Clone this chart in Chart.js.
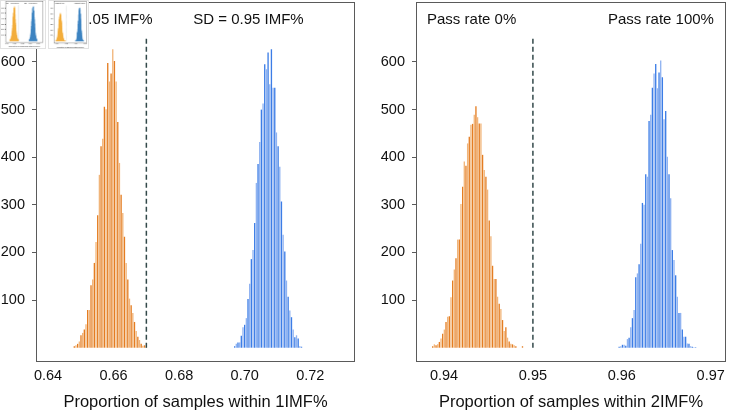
<!DOCTYPE html>
<html>
<head>
<meta charset="utf-8">
<script src="https://cdn.jsdelivr.net/npm/chart.js@4.4.1/dist/chart.umd.min.js"></script>
<style>
  html, body { margin: 0; padding: 0; background: #fff; }
  body { width: 737px; height: 412px; position: relative; overflow: hidden; }
  canvas { position: absolute; }
  #inset { position: absolute; left: 0; top: 0; width: 89px; height: 49px; background: #fff; }
  #inset canvas { box-sizing: border-box; border: 1px solid #e2e2e2; }
</style>
</head>
<body>
<canvas id="left" width="368" height="412" style="left:0;top:0"></canvas>
<canvas id="right" width="369" height="412" style="left:368px;top:0"></canvas>
<div id="inset">
  <canvas id="thumbLeft" width="46" height="49" style="left:0;top:0"></canvas>
  <canvas id="thumbRight" width="41" height="49" style="left:48px;top:0"></canvas>
</div>
<script>
// histogram counts, one value per bin
const leftBinWidth = 0.00051;
const leftOrangeStart = 0.64802;
const leftOrange = [3, 5, 8, 13, 26, 31, 38, 49, 79, 79, 131, 143, 178, 222, 278, 363, 423, 439, 506, 501,
  598, 559, 576, 627, 602, 559, 474, 388, 321, 283, 233, 178, 143, 103, 89, 73, 54, 35, 23, 16, 8, 4, 5, 2];
const leftBlueStart = 0.69692;
const leftBlue = [3, 8, 11, 11, 25, 43, 48, 62, 102, 134, 186, 205, 262, 346, 386, 432, 500, 513, 595, 585,
  620, 553, 627, 546, 546, 452, 423, 380, 307, 237, 202, 141, 107, 78, 64, 38, 22, 26, 19, 3, 2];
const leftThreshold = 0.67;
const leftTicks = [0.64, 0.66, 0.68, 0.70, 0.72];
const leftNotes = ['SD = 1.05 IMF%', 'SD = 0.95 IMF%'];

const rightBinWidth = 0.000187;
const rightOrangeStart = 0.93873;
const rightOrange = [3, 7, 5, 7, 12, 19, 29, 38, 54, 65, 66, 106, 141, 164, 188, 227, 227, 302, 338, 391,
  382, 429, 443, 468, 470, 489, 507, 484, 471, 471, 405, 373, 359, 332, 267, 234, 172, 144, 144, 107,
  92, 81, 58, 35, 43, 21, 13, 8, 7, 5, 3, 0, 0, 0, 3];
const rightBlueStart = 0.95970;
const rightBlue = [2, 3, 6, 6, 4, 18, 21, 43, 62, 79, 148, 156, 175, 218, 304, 300, 364, 359, 476, 489,
  546, 576, 596, 545, 578, 603, 568, 480, 497, 401, 364, 314, 205, 184, 152, 107, 73, 73, 38, 23,
  23, 9, 8, 3, 2, 1, 1];
const rightThreshold = 0.95;
const rightTicks = [0.94, 0.95, 0.96, 0.97];
const rightNotes = ['Pass rate 0%', 'Pass rate 100%'];

const countTicks = [100, 200, 300, 400, 500, 600];

const fontFamily = '"Liberation Sans", Arial, Helvetica, sans-serif';

function bins(start, width, counts) {
  return counts.map((c, i) => ({x: start + i * width, y: c}));
}

function alternate(dark, light) {
  return ctx => (ctx.dataIndex % 2 ? light : dark);
}

// frame box + the two notes at the top of each panel
const frameNotes = {
  id: 'frameNotes',
  afterDatasetsDraw(chart, args, opts) {
    const {ctx, chartArea: a, scales: {x, y}} = chart;
    ctx.save();
    ctx.strokeStyle = '#5a5a5a';
    ctx.lineWidth = opts.frameWidth;
    ctx.strokeRect(a.left + 0.5, a.top + 0.5, a.right - a.left - 1, a.bottom - a.top);
    ctx.fillStyle = '#111';
    ctx.font = opts.fontSize + 'px ' + fontFamily;
    ctx.textBaseline = 'middle';
    opts.notes.forEach((t, i) => {
      ctx.fillText(t, x.getPixelForValue(opts.noteX[i]), y.getPixelForValue(opts.noteY));
    });
    ctx.restore();
  }
};

function noPad(scale) {
  scale.paddingTop = 0;
  scale.paddingBottom = 0;
  scale.paddingLeft = 0;
  scale.paddingRight = 0;
}

function makePanel(id, p, k, colors) {
  const ctx = document.getElementById(id).getContext('2d');
  return new Chart(ctx, {
    type: 'bar',
    data: {
      datasets: [
        {
          type: 'line',
          data: [{x: p.threshold, y: 0}, {x: p.threshold, y: 650}],
          borderColor: '#33494a',
          borderWidth: 1.5 * k,
          borderDash: [5 * k, 3 * k],
          pointRadius: 0,
          order: 0
        },
        {
          data: bins(p.orangeStart, p.binWidth, p.orange),
          backgroundColor: colors.orange,
          grouped: false,
          barPercentage: colors.barPct,
          categoryPercentage: 1,
          order: 1
        },
        {
          data: bins(p.blueStart, p.binWidth, p.blue),
          backgroundColor: colors.blue,
          grouped: false,
          barPercentage: colors.barPct,
          categoryPercentage: 1,
          order: 1
        }
      ]
    },
    options: {
      responsive: false,
      animation: false,
      layout: {
        padding: {top: 2 * k, right: p.padRight * k, left: 0, bottom: 0}
      },
      plugins: {
        legend: {display: false},
        tooltip: {enabled: false},
        frameNotes: {
          notes: p.notes,
          noteX: p.noteX,
          noteY: 688,
          fontSize: 15 * k,
          frameWidth: Math.max(k, 0.4)
        }
      },
      scales: {
        x: {
          type: 'linear',
          offset: false,
          min: p.xMin,
          max: p.xMax,
          grid: {display: false, drawTicks: false, offset: false},
          border: {display: false},
          afterBuildTicks: scale => { scale.ticks = p.ticks.map(v => ({value: v})); },
          afterFit: scale => { scale.height = 51 * k; noPad(scale); },
          ticks: {
            padding: 6 * k,
            color: '#111',
            maxRotation: 0,
            autoSkip: false,
            font: {family: fontFamily, size: 14.5 * k},
            callback: v => v.toFixed(2)
          },
          title: {
            display: true,
            text: p.title,
            color: '#111',
            padding: 0,
            font: {family: fontFamily, size: 16.5 * k, lineHeight: 1.1}
          }
        },
        y: {
          min: -28,
          max: 726,
          grid: {display: true, drawOnChartArea: false, drawTicks: true, tickLength: 4 * k, color: '#5a5a5a'},
          border: {display: false},
          afterBuildTicks: scale => { scale.ticks = countTicks.map(v => ({value: v})); },
          afterFit: scale => { scale.width = p.yWidth * k; noPad(scale); },
          ticks: {
            padding: 7 * k,
            color: '#111',
            font: {family: fontFamily, size: 14.5 * k}
          }
        }
      }
    },
    plugins: [frameNotes]
  });
}

const leftPanel = {
  orangeStart: leftOrangeStart, blueStart: leftBlueStart, binWidth: leftBinWidth,
  orange: leftOrange, blue: leftBlue, threshold: leftThreshold, ticks: leftTicks,
  notes: leftNotes, noteX: [0.6382, 0.6843],
  xMin: 0.63634, xMax: 0.73363, yWidth: 36, padRight: 13,
  title: 'Proportion of samples within 1IMF%'
};

const rightPanel = {
  orangeStart: rightOrangeStart, blueStart: rightBlueStart, binWidth: rightBinWidth,
  orange: rightOrange, blue: rightBlue, threshold: rightThreshold, ticks: rightTicks,
  notes: rightNotes, noteX: [0.93809, 0.95845],
  xMin: 0.93685, xMax: 0.97172, yWidth: 48, padRight: 11,
  title: 'Proportion of samples within 2IMF%'
};

const mainColors = {
  orange: alternate('#e47d22', '#f1b57a'),
  blue: alternate('#3c7de6', '#90b3f1'),
  barPct: 0.8
};
const thumbColors = {
  orange: '#f3ae3d',
  blue: '#3f85c2',
  barPct: 1
};

makePanel('left', leftPanel, 1, mainColors);
makePanel('right', rightPanel, 1, mainColors);
makePanel('thumbLeft', leftPanel, 0.125, thumbColors);
makePanel('thumbRight', rightPanel, 0.11, thumbColors);
</script>
</body>
</html>
